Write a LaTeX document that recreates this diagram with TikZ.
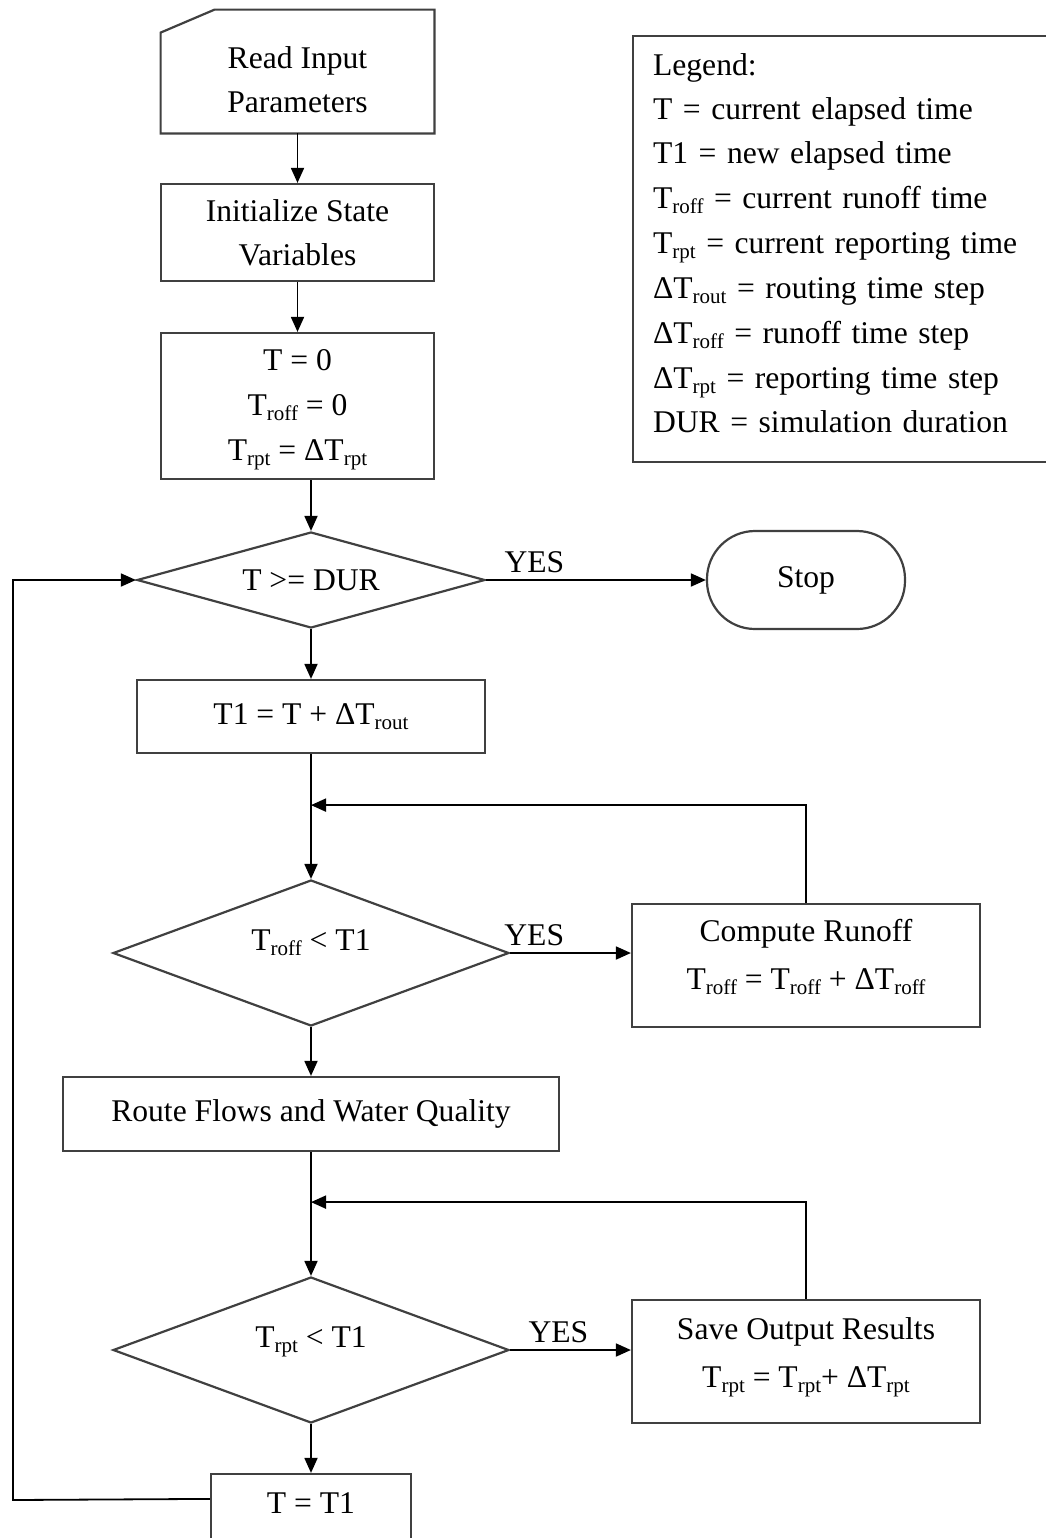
\documentclass[tikz,border=0pt]{standalone}
\usepackage{fontspec}
\setmainfont{Liberation Serif}
\usetikzlibrary{shapes.geometric,arrows.meta}
\newcommand\lo[1]{\raisebox{-2.5pt}{\fontsize{10.5}{10}\selectfont #1}}

\begin{document}
\begin{tikzpicture}[font=\fontsize{15.8}{22}\selectfont]
    \tikzstyle{box} = [rectangle, draw=black!75, line width=1.1pt, text centered, align=center,
                                      minimum width=174pt]
    \tikzstyle{card} = [rectangle, minimum width=136.5pt, minimum height=61.5pt]
    \tikzstyle{test} = [diamond, draw=black!75, line width=1.1pt, inner sep=0pt, aspect=2.7,
                                      minimum width=198pt, minimum height=73pt]
    \tikzstyle{ends} = [rectangle, rounded corners=24pt, draw=black!75, line width=1.1pt,
                                      minimum width=99pt, minimum height=49pt]
    \tikzstyle{flow} = [-{Triangle[length=7.5pt,width=6.5pt]}, line width=0.9pt]
  \useasboundingbox (0,0) rectangle (522.5pt,-769pt);
  \node[card, label={[anchor=center, align=center, yshift=-35.25pt]north:Read Input\\Parameters}](read) at (148.75pt,-35.75pt){};
  \draw[draw=black!75, line width=1.1pt] ([yshift=-11.5pt]read.north west) -- ([xshift=27pt]read.north west)
      -- (read.north east) -- (read.south east) -- (read.south west) -- cycle;
  \node[box, minimum width=136.5pt, minimum height=48.5pt, node distance=80.5pt, below of=read](init){Initialize State\\Variables};
  \node[box, minimum width=136.5pt, minimum height=73pt, node distance=86.75pt, below of=init,
      label={[anchor=center, align=center, yshift=-39pt]north:T = 0\\[0.5pt]T\lo{roff} = 0\\[0.5pt]T\lo{rpt} = ΔT\lo{rpt}}](zero){};
  \node[test, aspect=3.6, minimum width=174pt, minimum height=48pt, node distance=87pt, below of=zero, xshift=6.75pt](dur){T >= DUR};
  \node[ends, node distance=247.5pt, right of=dur](stop){Stop};
  \node[box, minimum height=36.5pt, node distance=68.25pt, below of=dur](t1){T1 = T + ΔT\lo{rout}};
  \node[test, node distance=118.25pt, below of=t1,
      label={[anchor=center, yshift=-32pt]north:T\lo{roff} < T1}](roff){};
  \node[box, minimum height=61.5pt, node distance=247.5pt, right of=roff, yshift=-6.25pt,
      label={[anchor=center, align=center, yshift=-27pt]north:Compute Runoff\\[2pt]T\lo{roff} = T\lo{roff} + ΔT\lo{roff}}](comp){};
  \node[box, minimum width=248pt, minimum height=37pt, node distance=80.5pt, below of=roff](route){Route Flows and Water Quality};
  \node[test, node distance=118pt, below of=route,
      label={[anchor=center, yshift=-33pt]north:T\lo{rpt} < T1}](rpt){};
  \node[box, minimum height=61.5pt, node distance=247.5pt, right of=rpt, yshift=-5.75pt,
      label={[anchor=center, align=center, yshift=-29pt]north:Save Output Results\\[2pt]T\lo{rpt} = T\lo{rpt}+ ΔT\lo{rpt}}](save){};
  \node[box, minimum width=100pt, minimum height=50pt, node distance=87pt, below of=rpt,
      label={[anchor=center, yshift=-15pt]north:T = T1}](tt){};
  \node[rectangle, draw=black!75, line width=1.1pt, anchor=north west, text width=220pt, inner xsep=10pt,
      minimum height=213pt, align=left](legend) at (316pt,-17.5pt)
      {Legend:\\
       T = current elapsed time\\
       T1 = new elapsed time\\[0.5pt]
       T\lo{roff} = current runoff time\\[0.5pt]
       T\lo{rpt} = current reporting time\\[0.5pt]
       ΔT\lo{rout} = routing time step\\[0.5pt]
       ΔT\lo{roff} = runoff time step\\[0.5pt]
       ΔT\lo{rpt} = reporting time step\\
       DUR = simulation duration\rule[-6pt]{0pt}{6pt}};
  \coordinate (j1) at ([yshift=-25.5pt]t1.south);
  \coordinate (j2) at ([yshift=-25pt]route.south);
  \coordinate (out) at ([yshift=-13pt]tt.north west);
  \coordinate (back) at (6.5pt,-750pt);
  \draw[flow] (read) -- (init);
  \draw[flow] (init) -- (zero);
  \draw[flow] (zero.south -| dur.north) -- (dur);
  \draw[flow] (dur) -- node[above, pos=0.22]{YES} (stop);
  \draw[flow] (dur) -- (t1);
  \draw[flow] (t1) -- (roff);
  \draw[flow] (comp.north) |- (j1);
  \draw[flow] (roff.east) -- node[above, pos=0.2]{YES} (roff.east -| comp.west);
  \draw[flow] (roff) -- (route);
  \draw[flow] (route) -- (rpt);
  \draw[flow] (save.north) |- (j2);
  \draw[flow] (rpt.east) -- node[above, pos=0.4]{YES} (rpt.east -| save.west);
  \draw[flow] (rpt) -- (tt);
  \draw[flow] (out) -- (back) |- (dur.west);
  \end{tikzpicture}
\end{document}
